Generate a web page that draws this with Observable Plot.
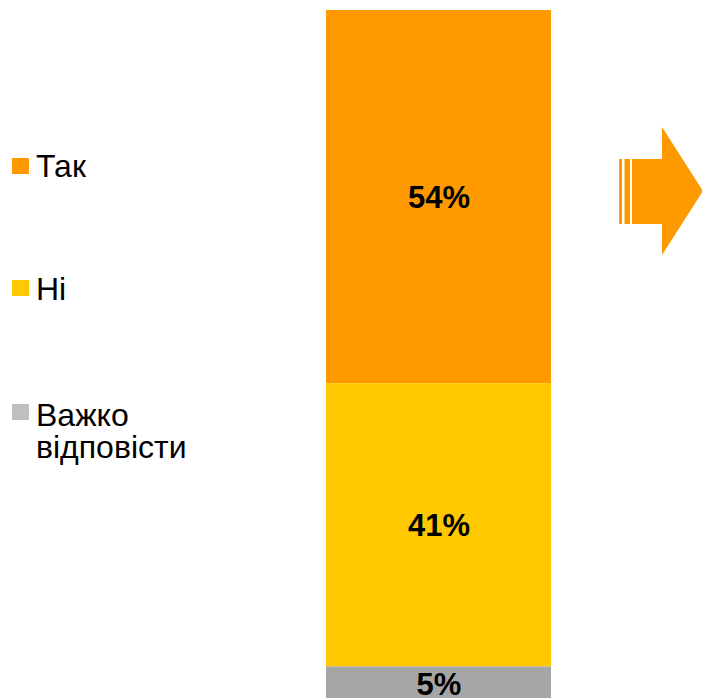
<!DOCTYPE html>
<html>
<head>
<meta charset="utf-8">
<script src="https://cdn.jsdelivr.net/npm/d3@7"></script>
<script src="https://cdn.jsdelivr.net/npm/@observablehq/plot@0.6"></script>
<style>
  html, body { margin: 0; padding: 0; background: #fff; }
  #wrap { position: relative; width: 702px; height: 698px; overflow: hidden; font-family: "Liberation Sans", Arial, sans-serif; }
  #chart { position: absolute; left: 0; top: 0; }
  .sw { position: absolute; left: 12px; width: 17px; height: 16px; }
  .tx { position: absolute; left: 36px; font-size: 32px; line-height: 32px; color: #000; white-space: nowrap; }
  #arrow { position: absolute; left: 0; top: 0; }
</style>
</head>
<body>
<div id="wrap">
  <div id="chart"></div>
</div>
<script>
const categories = ["Так", "Ні", "Важко відповісти"];
const values = [54, 41, 5];
const labels = ["54%", "41%", "5%"];
const barColors = ["#ff9900", "#ffc800", "#a6a6a6"];
const legendColors = ["#ff9900", "#ffc800", "#bfbfbf"];

const data = categories.map((c, i) => ({ group: "all", category: c, value: values[i], label: labels[i] }));

const chart = Plot.plot({
  width: 702,
  height: 698,
  marginTop: 10,
  marginBottom: -3,
  marginLeft: 0,
  marginRight: 0,
  style: { fontFamily: "Liberation Sans, Arial, sans-serif", background: "transparent" },
  x: { domain: ["all"], range: [326, 551], padding: 0, axis: null },
  y: { domain: [0, 100], axis: null, reverse: true },
  color: { domain: categories, range: barColors },
  marks: [
    Plot.barY(data, Plot.stackY({ x: "group", y: "value", fill: "category", order: null })),
    Plot.text(data, Plot.stackY({ x: "group", y: "value", order: null, text: "label", fontSize: 31, fontWeight: "bold", fill: "#000", dy: 1 }))
  ]
});
document.getElementById("chart").appendChild(chart);

// legend
const wrap = document.getElementById("wrap");
const textTops = [150, 273, 399];
const swatchTops = [158, 280, 404];
categories.forEach((c, i) => {
  const sw = document.createElement("div");
  sw.className = "sw";
  sw.style.top = swatchTops[i] + "px";
  sw.style.background = legendColors[i];
  const tx = document.createElement("div");
  tx.className = "tx";
  tx.style.top = textTops[i] + "px";
  tx.innerHTML = c === "Важко відповісти" ? "Важко<br>відповісти" : c;
  wrap.appendChild(sw);
  wrap.appendChild(tx);
});

// decorative arrow
const ns = "http://www.w3.org/2000/svg";
const svg = document.createElementNS(ns, "svg");
svg.setAttribute("id", "arrow");
svg.setAttribute("width", 702);
svg.setAttribute("height", 698);
const g = document.createElementNS(ns, "g");
g.setAttribute("fill", "#ff9900");
const r1 = document.createElementNS(ns, "rect");
r1.setAttribute("x", 619); r1.setAttribute("y", 159); r1.setAttribute("width", 3); r1.setAttribute("height", 65);
const r2 = document.createElementNS(ns, "rect");
r2.setAttribute("x", 624.5); r2.setAttribute("y", 159); r2.setAttribute("width", 5.5); r2.setAttribute("height", 65);
const p = document.createElementNS(ns, "path");
p.setAttribute("d", "M632,159 L662,159 L662,127 L703,191 L662,255 L662,224 L632,224 Z");
g.appendChild(r1); g.appendChild(r2); g.appendChild(p);
svg.appendChild(g);
wrap.appendChild(svg);
</script>
</body>
</html>
